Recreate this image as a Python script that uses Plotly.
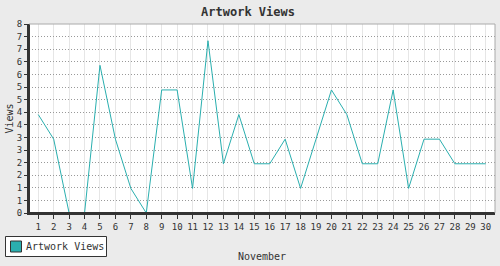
import numpy as np
import plotly.graph_objects as go

days = list(range(1, 31))
views = [4, 3, 0, 0, 6, 3, 1, 0, 5, 5, 1, 7, 2, 4, 2, 2, 3, 1, 3, 5, 4, 2, 2, 5, 1, 3, 3, 2, 2, 2]
series_name = "Artwork Views"
title = "Artwork Views"
x_title = "November"
y_title = "Views"
y_max = 7.68
y_ticks = list(np.linspace(0, y_max, 16))
y_ticktext = [str(int(round(v))) for v in y_ticks]

teal = "#2AAFAF"
font = "DejaVu Sans Mono"

W, H = 500, 266
ML, MR, MT, MB = 29, 5, 24, 53
PW, PH = W - ML - MR, H - MT - MB


def px(x):
    return (x - ML) / PW


def py(y):
    return (H - MB - y) / PH


fig = go.Figure()
fig.add_trace(go.Scatter(x=days, y=views, mode="lines", line=dict(color=teal, width=1),
                         showlegend=False, name=series_name))

fig.update_layout(
    width=W, height=H,
    margin=dict(l=ML, r=MR, t=MT, b=MB, autoexpand=False),
    paper_bgcolor="#EBEBEB", plot_bgcolor="white",
    font=dict(family=font, color="#333333", size=9),
    title=dict(text="<b>" + title + "</b>", x=0.496, xanchor="center", y=0.955, yanchor="middle",
               font=dict(family=font, size=12, color="#333333")),
    showlegend=False,
)
fig.update_xaxes(range=[0.4, 30.6], tickmode="array", tickvals=days, ticktext=[str(d) for d in days],
                 showgrid=True, gridcolor="#E6E6E6", gridwidth=1,
                 showline=True, linecolor="#333333", linewidth=2, layer="above traces",
                 ticks="outside", ticklen=4, tickcolor="#333333", tickfont=dict(size=9),
                 zeroline=False, fixedrange=True, automargin=False,
                 title=dict(text=x_title, standoff=22, font=dict(size=10)))
fig.update_yaxes(range=[0, y_max], tickmode="array", tickvals=y_ticks, ticktext=y_ticktext,
                 showgrid=True, gridcolor="#999999", gridwidth=1, griddash="1px,2px",
                 showline=True, linecolor="#333333", linewidth=2, layer="above traces",
                 ticks="outside", ticklen=3, tickcolor="#333333", tickfont=dict(size=9),
                 zeroline=False, fixedrange=True, automargin=False,
                 title=dict(text=y_title, standoff=1, font=dict(size=10)))
# axis lines drawn above the data (hide the zero segments like the original)
fig.add_shape(type="line", xref="paper", yref="paper", x0=0, x1=1, y0=0, y1=0, layer="above",
              line=dict(color="#333333", width=2))
fig.add_shape(type="line", xref="paper", yref="paper", x0=0, x1=0, y0=0, y1=1, layer="above",
              line=dict(color="#333333", width=2))
# top / right frame
fig.add_shape(type="line", xref="paper", yref="paper", x0=0, x1=1, y0=1, y1=1,
              line=dict(color="#AAAAAA", width=1))
fig.add_shape(type="line", xref="paper", yref="paper", x0=1, x1=1, y0=0, y1=1,
              line=dict(color="#AAAAAA", width=1))
# legend box
fig.add_shape(type="rect", xref="paper", yref="paper", x0=px(5.5), x1=px(106.5), y0=py(236.5), y1=py(256.5),
              line=dict(color="#333333", width=1), fillcolor="white")
fig.add_shape(type="rect", xref="paper", yref="paper", x0=px(10.5), x1=px(21.5), y0=py(241), y1=py(252),
              line=dict(color="#333333", width=1), fillcolor=teal)
fig.add_annotation(text=series_name, xref="paper", yref="paper", x=px(24), y=py(246.5),
                   xanchor="left", yanchor="middle", showarrow=False,
                   font=dict(family=font, size=10, color="#333333"))
fig.write_html("out.html")
